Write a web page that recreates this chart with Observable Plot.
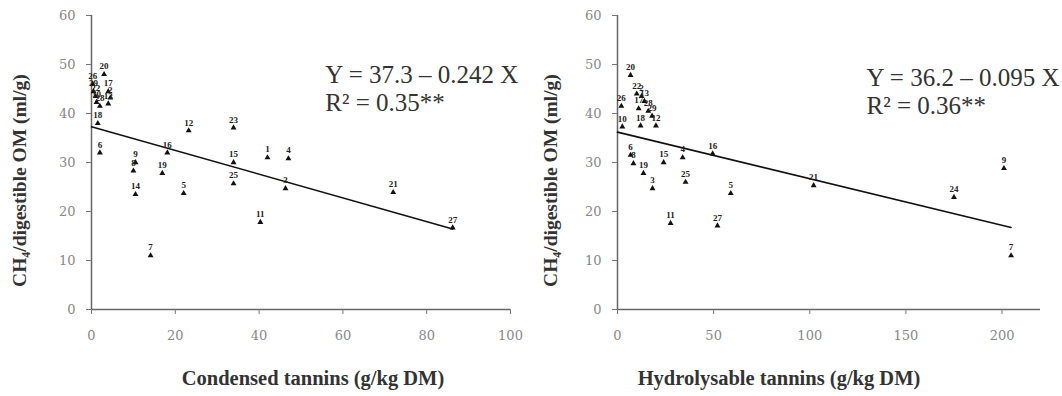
<!DOCTYPE html>
<html><head><meta charset="utf-8">
<script src="https://cdn.jsdelivr.net/npm/d3@7"></script>
<script src="https://cdn.jsdelivr.net/npm/@observablehq/plot@0.6"></script>
<style>
body{margin:0;background:#fff;}
#wrap{display:flex;width:1062px;height:396px;}
#wrap > div{width:531px;height:396px;}
</style></head><body><div id="wrap"><div id="left"></div><div id="right"></div></div>
<script>
// ---- data ----
const yTicks = [0, 10, 20, 30, 40, 50, 60];
const ctTicks = [0, 20, 40, 60, 80, 100];
const htTicks = [0, 50, 100, 150, 200];

// Condensed tannins panel
const ctIds   = ["20","26","29","22","17","2","10","13","28","18","6","12","23","16","9","8","19","14","5","15","25","1","4","3","11","7","21","27"];
const ctX     = [3, 0.3, 0.5, 1, 4, 4.5, 1.2, 4, 2, 1.5, 2, 23.2, 33.9, 18.1, 10.5, 10, 16.9, 10.5, 22, 33.9, 33.9, 42, 47, 46.3, 40.3, 14.1, 72, 86.2];
const ctCH4   = [48, 46, 44.5, 43.5, 44.5, 43.2, 42.3, 42, 41.5, 38, 32, 36.5, 37.1, 32, 30, 28.3, 27.8, 23.5, 23.7, 30, 25.7, 31, 30.8, 24.7, 17.8, 11, 23.9, 16.7];
const ctFit   = {intercept: 37.3, slope: -0.242};
const ctEq    = "Y = 37.3 – 0.242 X\nR² = 0.35**";

// Hydrolysable tannins panel
const htIds   = ["20","26","22","2","13","17","28","29","10","18","12","6","8","19","3","15","4","16","25","5","11","27","21","24","9","7"];
const htX     = [6.8, 2, 10, 12.5, 14, 11, 16, 18, 2.5, 12, 20, 6.8, 8.3, 13.5, 18.2, 24, 33.9, 49.5, 35.4, 58.9, 27.6, 52, 102, 175, 201, 204.7];
const htCH4   = [47.8, 41.5, 44, 43.5, 42.5, 41, 40.5, 39.5, 37.3, 37.5, 37.5, 31.5, 29.8, 27.8, 24.7, 30, 31, 31.8, 26, 23.7, 17.6, 17.1, 25.3, 22.9, 28.8, 11];
const htFit   = {intercept: 36.2, slope: -0.095};
const htEq    = "Y = 36.2 – 0.095 X\nR² = 0.36**";

const yLabel = "CH₄/digestible OM (ml/g)";

function panel(o) {
  const pts = o.ids.map((id, i) => ({id, x: o.xs[i], y: o.ys[i]}));
  const xMax = d3.max(o.xs);
  const fit = [0, xMax].map(x => ({x, y: o.fit.intercept + o.fit.slope * x}));
  return Plot.plot({
    width: 531, height: 396,
    marginTop: 15, marginBottom: 87, marginLeft: o.marginLeft, marginRight: o.marginRight,
    style: {fontFamily: "DejaVu Serif, serif", fontSize: "13px", color: "#777", background: "#fff"},
    x: {domain: o.xDomain},
    y: {domain: [0, 60]},
    marks: [
      Plot.ruleX([0], {stroke: "#666", strokeWidth: 1.5}),
      Plot.ruleY([0], {stroke: "#666", strokeWidth: 1.5}),
      Plot.axisY({ticks: yTicks, tickSize: 5, tickPadding: 11, label: null, stroke: "#777", fill: "#888"}),
      Plot.axisX({ticks: o.xTicks, tickSize: 5, tickPadding: 16, label: null, stroke: "#777", fill: "#888"}),
      Plot.line(fit, {x: "x", y: "y", stroke: "#111", strokeWidth: 1.6}),
      Plot.dot(pts, {x: "x", y: "y", symbol: "triangle", r: 2.2, fill: "#111", stroke: null}),
      Plot.text(pts, {x: "x", y: "y", text: "id", dy: -8, fontSize: 9, fontWeight: "bold", fontFamily: "Liberation Serif, serif", fill: "#222"}),
      Plot.text([o.eq], {x: o.eqX, y: o.eqY, text: d => d, textAnchor: "start", lineAnchor: "top", lineHeight: 1.12, fontSize: 25, fontFamily: "Liberation Serif, serif", fill: "#333"}),
      Plot.text([yLabel], {text: d => d, frameAnchor: "left", textAnchor: "middle", dx: o.yLabelDx, dy: 18, rotate: -90, fontSize: 19.5, fontWeight: "bold", fontFamily: "Liberation Serif, serif", fill: "#333"}),
      Plot.text([o.xLabel], {text: d => d, frameAnchor: "bottom", textAnchor: "middle", dx: o.xLabelDx, dy: 75, fontSize: 20.5, fontWeight: "bold", fontFamily: "Liberation Serif, serif", fill: "#333"})
    ]
  });
}

document.getElementById("left").append(panel({
  ids: ctIds, xs: ctX, ys: ctCH4, fit: ctFit, eq: ctEq, eqX: 55.8, eqY: 50.3,
  xDomain: [0, 100], xTicks: ctTicks, marginLeft: 91, marginRight: 21,
  xLabel: "Condensed tannins (g/kg DM)", xLabelDx: 12, yLabelDx: -72
}));
document.getElementById("right").append(panel({
  ids: htIds, xs: htX, ys: htCH4, fit: htFit, eq: htEq, eqX: 129.5, eqY: 49.7,
  xDomain: [0, 220], xTicks: htTicks, marginLeft: 86, marginRight: 22,
  xLabel: "Hydrolysable tannins (g/kg DM)", xLabelDx: -50, yLabelDx: -67
}));
</script></body></html>
